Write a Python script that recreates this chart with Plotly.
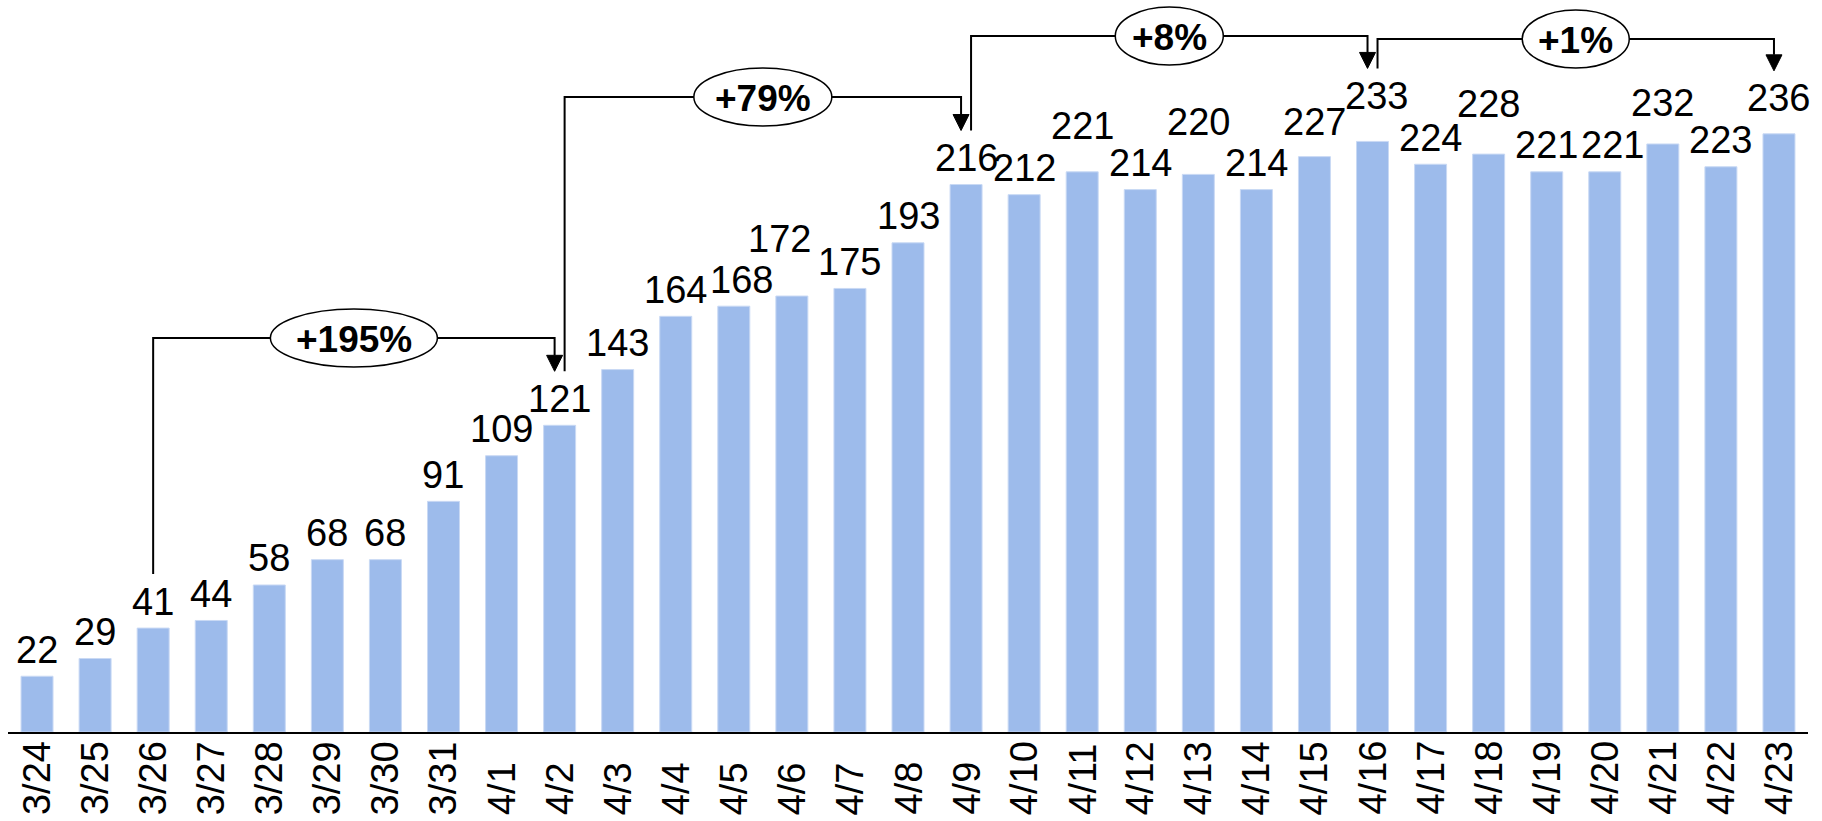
import plotly.graph_objects as go

# ---------------- data ----------------
dates = ["3/24", "3/25", "3/26", "3/27", "3/28", "3/29", "3/30", "3/31",
         "4/1", "4/2", "4/3", "4/4", "4/5", "4/6", "4/7", "4/8", "4/9", "4/10",
         "4/11", "4/12", "4/13", "4/14", "4/15", "4/16", "4/17", "4/18", "4/19",
         "4/20", "4/21", "4/22", "4/23"]
values = [22, 29, 41, 44, 58, 68, 68, 91,
          109, 121, 143, 164, 168, 172, 175, 193, 216, 212,
          221, 214, 220, 214, 227, 233, 224, 228, 221,
          221, 232, 223, 236]
bracket_from = ["3/26", "4/2", "4/9", "4/16"]
bracket_to = ["4/2", "4/9", "4/16", "4/23"]

# ---------------- style ----------------
W, H = 1822, 821
M_L, M_R, M_T, M_B = 8, 14, 0, 89
PLOT_W = W - M_L - M_R
PLOT_H = H - M_T - M_B
YMAX = 288.8
U = YMAX / PLOT_H                 # data units per pixel (y)
PXC = PLOT_W / len(dates)         # pixels per category (x)

BAR_COLOR = "#9dbbeb"
FONT = "Liberation Sans, Arial, sans-serif"
LABEL_SIZE = 38
TICK_SIZE = 38
BADGE_SIZE = 37
TICK_BOTTOM_PX = 85               # category labels: bottom edge below the axis

# extra upward lift (px) and sideways nudge (px) of some value labels
label_lift = {"4/6": 31, "4/11": 19, "4/13": 26, "4/15": 8, "4/16": 19,
              "4/18": 24, "4/21": 14, "4/23": 9}
label_nudge = {"4/6": -12, "4/5": 8, "4/20": 8, "4/16": 4}
bracket_level_px = [338, 97, 36, 39]      # from top of plot
badge_w_px = [167, 138, 108, 107]
badge_h_px = 58
ARROW_OFF = 5 / PXC                      # side offset of bracket ends (cat units)
HEAD_W = 16 / PXC
HEAD_H = 16 * U
LINE_W = 2

fig = go.Figure()
fig.add_trace(go.Bar(
    x=dates, y=values,
    marker=dict(color=BAR_COLOR, line=dict(color="#c9d9f4", width=1)),
    hoverinfo="x+y",
))

annotations = []
for d, v in zip(dates, values):
    # value label above each bar
    annotations.append(dict(
        x=d, y=v, xref="x", yref="y", text=str(v), showarrow=False,
        xanchor="center", yanchor="bottom",
        yshift=3.5 + label_lift.get(d, 0), xshift=label_nudge.get(d, 0),
        font=dict(family=FONT, size=LABEL_SIZE, color="#000000"),
    ))
    # rotated category label below the axis (bottom-aligned, as in the original)
    annotations.append(dict(
        x=d, y=0, xref="x", yref="y", text=d, showarrow=False, textangle=-90,
        xanchor="center", yanchor="bottom", yshift=-TICK_BOTTOM_PX,
        font=dict(family=FONT, size=TICK_SIZE, color="#000000"),
    ))


def gap_top(d):
    """data y just above the value label of category d (15px clearance)."""
    i = dates.index(d)
    return values[i] + (54 + label_lift.get(d, 0)) * U


shapes = []
for k, (a, b) in enumerate(zip(bracket_from, bracket_to)):
    ia, ib = dates.index(a), dates.index(b)
    level = (PLOT_H - bracket_level_px[k]) * U
    xa = ia + (ARROW_OFF if k > 0 else 0)
    xb = ib - ARROW_OFF
    ya = gap_top(a)
    ytip = gap_top(b)
    line = dict(color="#000000", width=LINE_W)
    shapes.append(dict(type="path", xref="x", yref="y", layer="above",
                       path=f"M {xa},{ya} L {xa},{level} L {xb},{level} L {xb},{ytip + HEAD_H}",
                       line=line))
    shapes.append(dict(type="path", xref="x", yref="y", layer="above",
                       path=f"M {xb - HEAD_W/2},{ytip + HEAD_H} L {xb + HEAD_W/2},{ytip + HEAD_H} L {xb},{ytip} Z",
                       fillcolor="#000000", line=dict(color="#000000", width=1)))
    cx = (xa + xb) / 2
    hw = badge_w_px[k] / 2 / PXC
    hh = badge_h_px / 2 * U
    shapes.append(dict(type="circle", xref="x", yref="y", layer="above",
                       x0=cx - hw, x1=cx + hw, y0=level - hh, y1=level + hh,
                       fillcolor="#ffffff", line=dict(color="#000000", width=1.5)))
    pct = round((values[ib] / values[ia] - 1) * 100)
    annotations.append(dict(
        x=cx, y=level, xref="x", yref="y", text=f"<b>+{pct}%</b>", showarrow=False,
        xanchor="center", yanchor="middle", yshift=-1,
        font=dict(family=FONT, size=BADGE_SIZE, color="#000000"),
    ))

fig.update_layout(
    width=W, height=H,
    margin=dict(l=M_L, r=M_R, t=M_T, b=M_B),
    paper_bgcolor="#ffffff", plot_bgcolor="#ffffff",
    showlegend=False,
    bargap=0.449,
    shapes=shapes,
    annotations=annotations,
    xaxis=dict(type="category", range=[-0.5, len(dates) - 0.5],
               showline=True, linecolor="#000000", linewidth=2,
               ticks="", showgrid=False, zeroline=False, showticklabels=False,
               fixedrange=True),
    yaxis=dict(range=[0, YMAX], visible=False, showgrid=False, zeroline=False,
               fixedrange=True),
)

fig.write_html("out.html", config={"displayModeBar": False},
               post_script="document.body.style.margin='0';document.body.style.overflow='hidden';")
